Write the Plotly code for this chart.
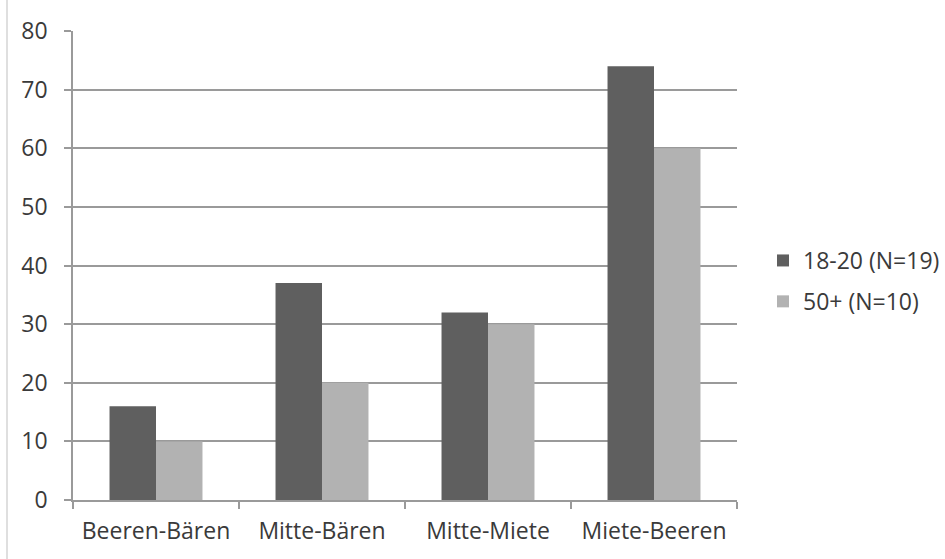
import plotly.graph_objects as go

# Minimal-pair categories and recognition rates per age group
categories = ["Beeren-Bären", "Mitte-Bären", "Mitte-Miete", "Miete-Beeren"]
young_label = "18-20 (N=19)"
young_values = [16, 37, 32, 74]
old_label = "50+ (N=10)"
old_values = [10, 20, 30, 60]
y_ticks = [0, 10, 20, 30, 40, 50, 60, 70, 80]

W, H = 945, 559
M_L, M_R, M_T, M_B = 73, 208, 31, 59

FONT = "Open Sans"
FS = 23
TXT = "#3a3a3a"
GRID = "#9a9a9a"

fig = go.Figure()
fig.add_trace(go.Bar(x=categories, y=young_values, name=young_label,
                     legendgroup="young",
                     marker=dict(color="#5f5f5f", line=dict(width=0))))
fig.add_trace(go.Bar(x=categories, y=old_values, name=old_label,
                     legendgroup="old",
                     marker=dict(color="#b2b2b2", line=dict(width=0))))

fig.update_layout(
    width=W, height=H,
    margin=dict(l=M_L, r=M_R, t=M_T, b=M_B, pad=0, autoexpand=False),
    paper_bgcolor="white", plot_bgcolor="white",
    barmode="group", bargap=0.44, bargroupgap=0,
    font=dict(family=FONT, size=FS, color=TXT),
    showlegend=True,
    legend=dict(xref="container", yref="container",
                x=763 / W, y=1 - 281 / H, xanchor="left", yanchor="middle",
                font=dict(family=FONT, size=FS, color=TXT),
                itemwidth=30, traceorder="grouped", tracegroupgap=8,
                bgcolor="rgba(0,0,0,0)"),
    xaxis=dict(
        type="category", showgrid=False, showline=True, linecolor=GRID,
        linewidth=1.5, ticks="outside", tickson="boundaries", ticklen=7,
        tickcolor=GRID, tickwidth=1.5, ticklabelstandoff=10,
        tickfont=dict(family=FONT, size=FS, color=TXT),
    ),
    yaxis=dict(
        range=[0, 80], tickvals=y_ticks, showgrid=True, gridcolor=GRID,
        gridwidth=1.5, showline=True, linecolor=GRID, linewidth=1.5,
        ticks="outside", ticklen=7, tickcolor=GRID, tickwidth=1.5,
        ticklabelstandoff=12, zeroline=False,
        tickfont=dict(family=FONT, size=FS, color=TXT),
    ),
)

# Thin frame edge on the left side of the chart area
fig.add_shape(type="line", xref="paper", yref="paper",
              x0=(7 - M_L) / (W - M_L - M_R), x1=(7 - M_L) / (W - M_L - M_R),
              y0=-1.0, y1=1.2, line=dict(color="#d4d4d4", width=1.5))

fig.write_html("out.html")
